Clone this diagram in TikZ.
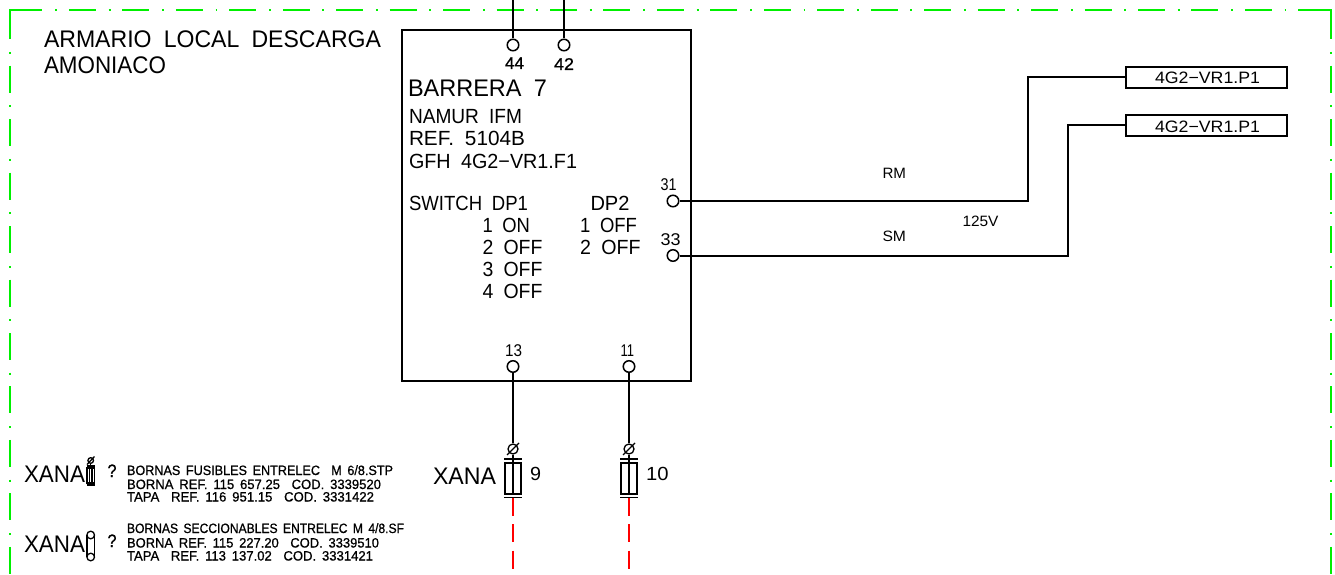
\documentclass[tikz,border=0pt]{standalone}
\usepackage{fontspec}
\usepackage{graphicx}
\setmainfont[WordSpace=1.9]{Liberation Sans}
\newfontfamily\cadb[WordSpace=1.6,FakeBold=0.8]{Liberation Sans}
\newcommand{\fit}[3]{\resizebox{#1pt}{\height}{\fontsize{#2pt}{#2pt}\selectfont #3}}
\newcommand{\fitb}[3]{\resizebox{#1pt}{\height}{\fontsize{#2pt}{#2pt}\cadb #3}}
\definecolor{cadgreen}{RGB}{0,240,0}
\tikzset{
  lbl/.style={anchor=base west,inner sep=0pt,outer sep=0pt,text=black},
  wire/.style={line width=2pt,black},
  term/.style={circle,draw=black,line width=1.5pt,minimum size=11.5pt,inner sep=0pt},
  frameline/.style={line width=2.6pt,color=cadgreen,dash pattern=on 27pt off 12.7pt on 1.9pt off 11.85pt,dash phase=39.7pt},
  framecorner/.style={line width=2.6pt,color=cadgreen},
  redline/.style={line width=1.8pt,color=red,dash pattern=on 18pt off 8.5pt},
  outbox/.style={draw=black,line width=1.7pt,minimum width=161pt,minimum height=21pt,inner sep=0pt,anchor=center},
  fusebody/.style={draw=black,line width=1.4pt,minimum width=16pt,minimum height=31pt,inner sep=0pt},
  fuseline/.style={line width=1.3pt,black},
  smallsym/.style={line width=1.3pt,black},
}
\begin{document}
\begin{tikzpicture}[x=1pt,y=-1pt]
\useasboundingbox (0,0) rectangle (1335,575);
\fill[white] (0,0) rectangle (1335,575);
% frame
\draw[framecorner] (10,39) -- (10,10) -- (42,10);
\draw[framecorner] (1299,10) -- (1331,10) -- (1331,39);
\draw[frameline] (55.2,10) -- (1299,10);
\draw[frameline] (10,52) -- (10,575);
\draw[frameline] (1331,52) -- (1331,575);
% main box
\node[draw=black,line width=1.6pt,minimum width=289pt,minimum height=351.5pt,inner sep=0pt] (barrier) at (546.5,205.5) {};
% terminals
\node[term] (t44) at (513,45) {};
\node[term] (t42) at (564,45) {};
\node[term] (t31) at (673,201) {};
\node[term] (t33) at (673,255.5) {};
\node[term] (t13) at (513,366.5) {};
\node[term] (t11) at (629,366.5) {};
\coordinate (top44) at (513,0);
\coordinate (top42) at (564,0);
\draw[wire] (top44) -- (t44);
\draw[wire] (top42) -- (t42);
% outputs
\node[outbox] (p1) at (1206.5,77.5) {};
\node[outbox] (p2) at (1206.5,125.5) {};
\node[lbl] (p1t) at (1155,83.5) {\fit{105}{16.5}{4G2−VR1.P1}};
\node[lbl] (p2t) at (1155,132) {\fit{105}{16.5}{4G2−VR1.P1}};
\coordinate (b1) at (1028,201);
\coordinate (b1u) at (1028,77.5);
\coordinate (b2) at (1068,255.5);
\coordinate (b2u) at (1068,125.5);
\draw[wire] (t31) -- (b1) -- (b1u) -- (p1.west);
\draw[wire] (t33) -- (b2) -- (b2u) -- (p2.west);
% fuses
\foreach \nm/\x in {f/513,g/629}{
  \node[fusebody] (\nm) at (\x,478.5) {};
  \node[circle,draw=black,line width=1.3pt,minimum size=10pt,inner sep=0pt] (\nm c) at (\x,449) {};
  \draw[fuseline] (\x-6,455) -- (\x+6,443);
  \draw[fuseline] (\x-9,459) -- (\x+9,459);
  \draw[fuseline] (\x-9,497.5) -- (\x+9,497.5);
  \draw[fuseline] (\nm c) -- (\x,459) -- (\nm.north);
  \draw[line width=1.1pt] (\nm.north) -- (\nm.south);
  \coordinate (\nm r) at (\x,575);
  \draw[redline] (\x,497.5) -- (\nm r);
}
\draw[wire] (t13) -- (fc);
\draw[wire] (t11) -- (gc);
% texts
\node[lbl] at (44,48) {\fit{337}{24}{ARMARIO LOCAL DESCARGA}};
\node[lbl] at (44,74) {\fit{122}{24}{AMONIACO}};
\node[lbl] at (505,69) {\fitb{19}{17}{44}};
\node[lbl] at (554,70) {\fitb{20}{17}{42}};
\node[lbl] at (408,97) {\fit{139}{24}{BARRERA 7}};
\node[lbl] at (409,124) {\fit{113}{20.5}{NAMUR IFM}};
\node[lbl] at (409,146) {\fit{116}{20.5}{REF. 5104B}};
\node[lbl] at (409,168.5) {\fit{168}{20.5}{GFH 4G2−VR1.F1}};
\node[lbl] at (409,210) {\fit{119}{20.5}{SWITCH DP1}};
\node[lbl] at (590.5,210) {\fit{39}{20.5}{DP2}};
\node[lbl] at (482.5,232.5) {\fit{47.5}{20.5}{1 ON}};
\node[lbl] at (482.5,254) {\fit{60}{20.5}{2 OFF}};
\node[lbl] at (482.5,276) {\fit{60}{20.5}{3 OFF}};
\node[lbl] at (482.5,298) {\fit{60}{20.5}{4 OFF}};
\node[lbl] at (580,232.5) {\fit{57}{20.5}{1 OFF}};
\node[lbl] at (580,254) {\fit{60.5}{20.5}{2 OFF}};
\node[lbl] at (660.5,190) {\fit{16}{17}{31}};
\node[lbl] at (660.5,245) {\fit{20}{17}{33}};
\node[lbl] at (505,356) {\fit{17}{17}{13}};
\node[lbl] at (620.5,356) {\fit{13.5}{17}{11}};
\node[lbl] at (882.5,178) {\fit{23.5}{15}{RM}};
\node[lbl] at (962.5,226) {\fit{36}{15}{125V}};
\node[lbl] at (882.5,241) {\fit{23.5}{15}{SM}};
\node[lbl] at (433,484) {\fit{63}{24}{XANA}};
\node[lbl] at (530,480) {\fit{11}{19}{9}};
\node[lbl] at (646,480) {\fit{22.5}{19}{10}};
% legend
\node[lbl] at (24,482) {\fit{61}{24}{XANA}};
\node[lbl] at (24,552) {\fit{61}{24}{XANA}};
\node[lbl] at (107.5,477) {\fitb{9}{18}{?}};
\node[lbl] at (107.5,547) {\fitb{9}{18}{?}};
\node[lbl] at (127,475) {\fitb{266}{13.5}{BORNAS FUSIBLES ENTRELEC\ \ M 6/8.STP}};
\node[lbl] at (127,489) {\fitb{254}{13.5}{BORNA REF. 115 657.25\ \ COD. 3339520}};
\node[lbl] at (127,501.5) {\fitb{247}{13.5}{TAPA\ \ REF. 116 951.15\ \ COD. 3331422}};
\node[lbl] at (127,533) {\fitb{277}{13.5}{BORNAS SECCIONABLES ENTRELEC M 4/8.SF}};
\node[lbl] at (127,547.5) {\fitb{252}{13.5}{BORNA REF. 115 227.20\ \ COD. 3339510}};
\node[lbl] at (127,560.5) {\fitb{246}{13.5}{TAPA\ \ REF. 113 137.02\ \ COD. 3331421}};
% legend symbols
\draw[smallsym] (87,468) rectangle (94.5,483);
\draw[smallsym] (89.5,468) -- (89.5,483) (92,468) -- (92,483);
\draw[smallsym] (86.5,485) -- (95,485) (86.5,466) -- (95,466);
\draw[smallsym] (90.7,460.5) circle (2.8pt);
\draw[smallsym] (87,464.5) -- (94.5,456.5);
\draw[smallsym] (90.7,463) -- (90.7,466);
\draw[smallsym] (90.7,535) circle (3.8pt);
\draw[smallsym] (90.7,557) circle (3.8pt);
\draw[smallsym] (87,535) -- (87,557) (94.5,535) -- (94.5,557);
\end{tikzpicture}
\end{document}
